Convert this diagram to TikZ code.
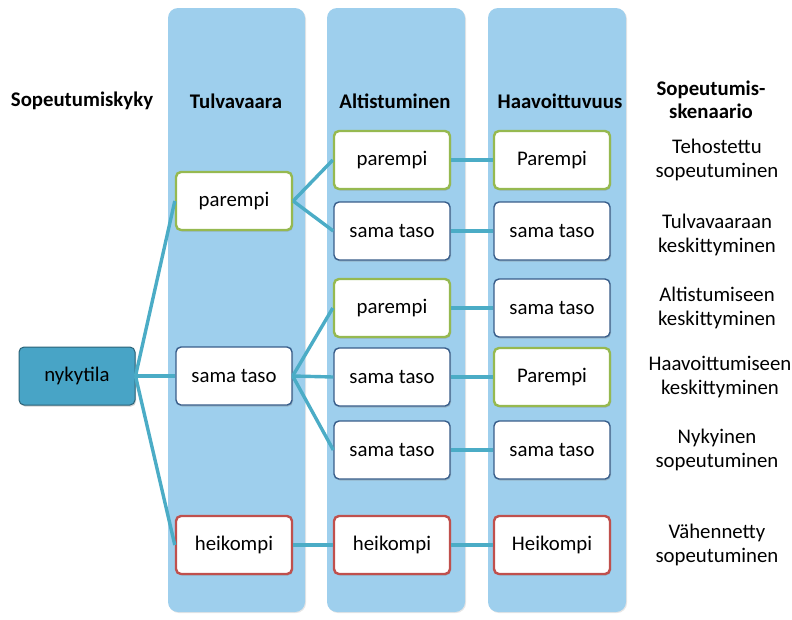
\documentclass[tikz,border=0pt]{standalone}
\usepackage{fontspec}
\setmainfont{Carlito}
\usetikzlibrary{shadows}

\definecolor{colbg}{RGB}{158,207,237}
\definecolor{linkc}{RGB}{75,172,198}
\definecolor{goodc}{RGB}{150,185,80}
\definecolor{badc}{RGB}{192,80,77}
\definecolor{samec}{RGB}{56,93,138}
\definecolor{nowc}{RGB}{72,164,198}

\begin{document}
\begin{tikzpicture}[x=1pt, y=-1pt, font=\fontsize{20.8}{24}\selectfont,
	box/.style={draw, rounded corners=5pt, fill=white, minimum width=116pt, minimum height=58pt, line width=2.4pt,
		drop shadow={shadow xshift=1pt, shadow yshift=-1.5pt, opacity=.35}},
	good/.style={box, draw=goodc},
	same/.style={box, draw=samec, line width=1.4pt},
	bad/.style={box, draw=badc},
	link/.style={linkc, line width=3.4pt},
	column/.style={fill=colbg, rounded corners=10pt, drop shadow={shadow xshift=1pt, shadow yshift=-1pt, opacity=.2}},
	head/.style={font=\fontsize{20.8}{23}\selectfont\bfseries, align=center},
	scen/.style={align=center}]
	\useasboundingbox (0,0) rectangle (792,619);
	% columns
	\path[column] (168,8) rectangle (305,612);
	\path[column] (327,8) rectangle (465,612);
	\path[column] (488,8) rectangle (626,612);
	% headings
	\node[head] (h0) at (82,101) {Sopeutumiskyky};
	\node[head] (h1) at (236,101) {Tulvavaara};
	\node[head] (h2) at (395,101) {Altistuminen};
	\node[head] (h3) at (560,101) {Haavoittuvuus};
	\node[head] (h4) at (711,100) {Sopeutumis-\\skenaario};
	% start
	\node[box, fill=nowc, draw=nowc!60!black, line width=1pt] (now) at (77,376) {nykytila};
	% Tulvavaara
	\node[good] (t1) at (234,201) {parempi};
	\node[same] (t2) at (234,376) {sama taso};
	\node[bad] (t3) at (234,545) {heikompi};
	% Altistuminen
	\node[good] (a1) at (392,160) {parempi};
	\node[same] (a2) at (392,231) {sama taso};
	\node[good] (a3) at (392,308) {parempi};
	\node[same] (a4) at (392,377) {sama taso};
	\node[same] (a5) at (392,450) {sama taso};
	\node[bad] (a6) at (392,545) {heikompi};
	% Haavoittuvuus
	\node[good] (v1) at (552,160) {Parempi};
	\node[same] (v2) at (552,231) {sama taso};
	\node[same] (v3) at (552,308) {sama taso};
	\node[good] (v4) at (552,377) {Parempi};
	\node[same] (v5) at (552,450) {sama taso};
	\node[bad] (v6) at (552,545) {Heikompi};
	% scenarios
	\node[scen] (s1) at (717,160) {Tehostettu\\sopeutuminen};
	\node[scen] (s2) at (717,235) {Tulvavaaraan\\keskittyminen};
	\node[scen] (s3) at (717,308) {Altistumiseen\\keskittyminen};
	\node[scen] (s4) at (720,377) {Haavoittumiseen\\keskittyminen};
	\node[scen] (s5) at (717,450) {Nykyinen\\sopeutuminen};
	\node[scen] (s6) at (717,545) {Vähennetty\\sopeutuminen};
	% links
	\foreach \a/\b in {now/t1, now/t2, now/t3, t1/a1, t1/a2, t2/a3, t2/a4, t2/a5, t3/a6,
		a1/v1, a2/v2, a3/v3, a4/v4, a5/v5, a6/v6}
		\draw[link] (\a.east) -- (\b.west);
\end{tikzpicture}
\end{document}
